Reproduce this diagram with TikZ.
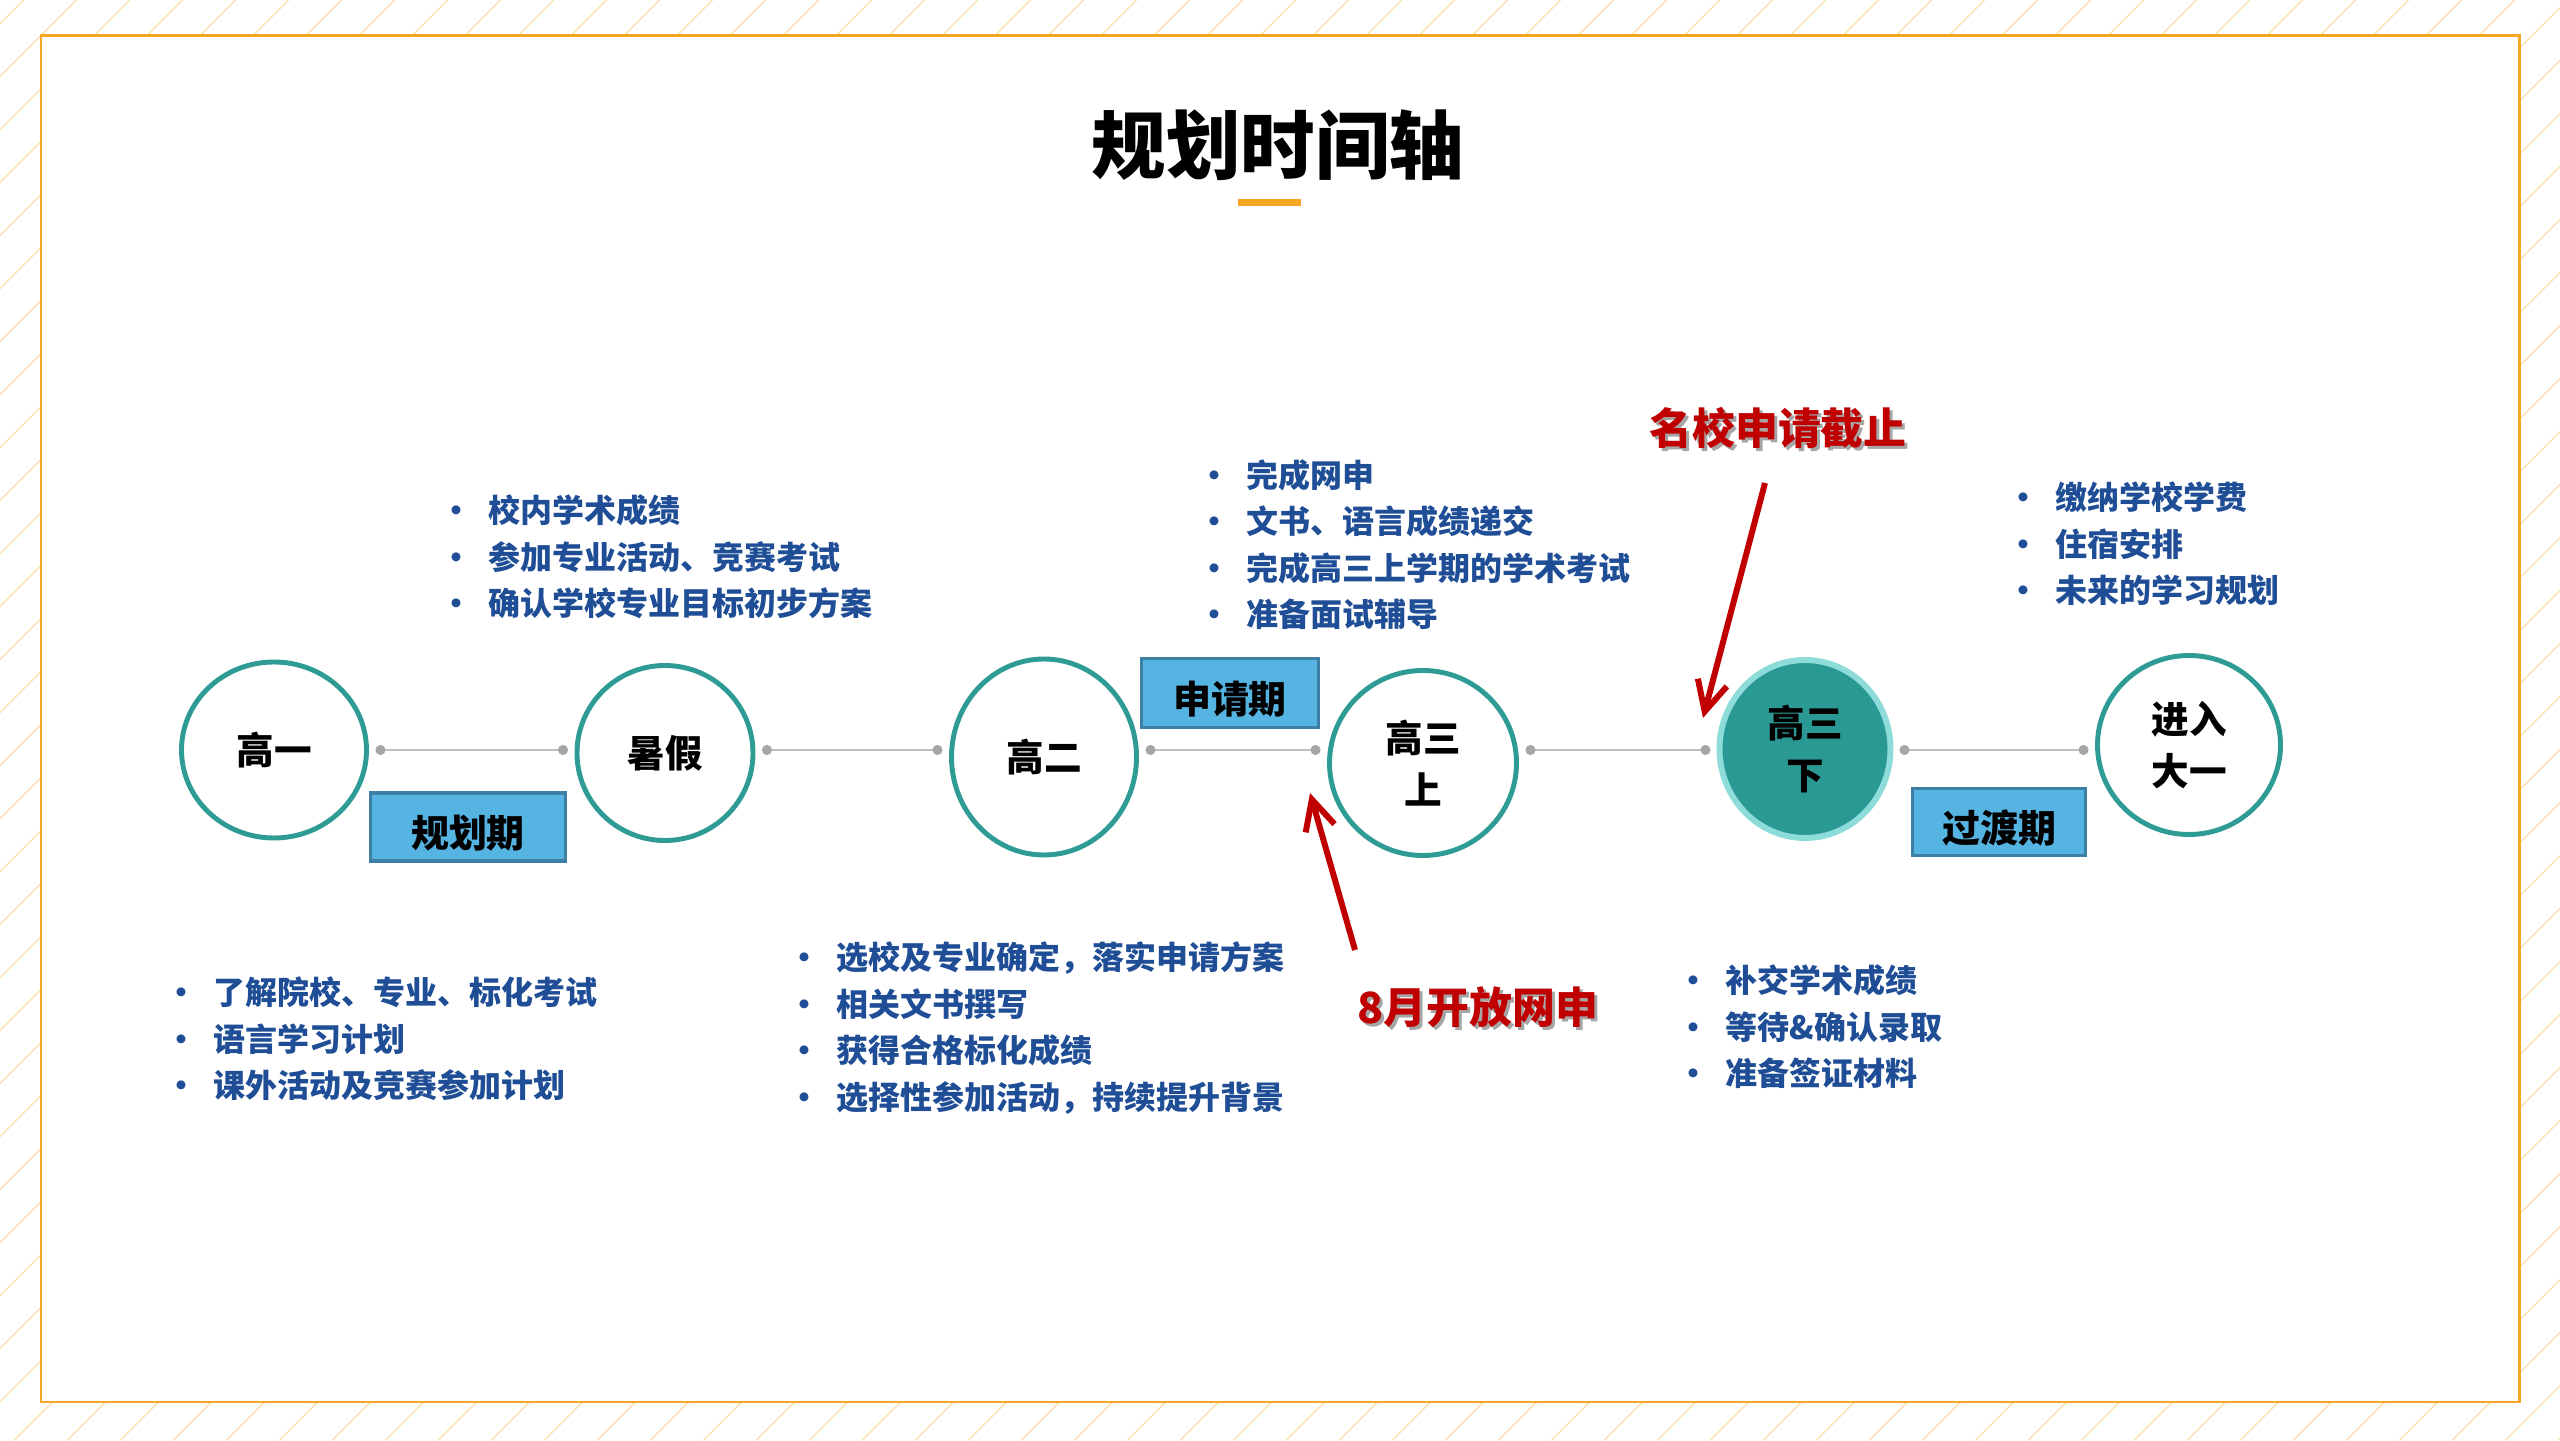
\documentclass[tikz,border=0pt]{standalone}
\usepackage{fontspec}
\setmainfont{Noto Sans CJK SC}
\usepackage{xcolor}
\usepackage{tikz}
\usetikzlibrary{shapes.geometric,arrows.meta}
\definecolor{frame}{HTML}{F6A623}
\definecolor{stripe}{HTML}{FBE1B2}
\definecolor{ring}{HTML}{2E9B95}
\definecolor{ringdark}{HTML}{2A9893}
\definecolor{ringlight}{HTML}{8EDCD9}
\definecolor{boxfill}{HTML}{56B4E3}
\definecolor{boxline}{HTML}{3E7FA6}
\definecolor{navy}{HTML}{1F4E96}
\definecolor{alert}{HTML}{C00000}
\definecolor{axisline}{HTML}{BFBFBF}
\definecolor{axisdot}{HTML}{A6A6A6}
\newcommand{\itm}{\makebox[2em][c]{•}}
\tikzset{
  stage/.style={ellipse, draw=ring, line width=1.4pt, fill=white, inner sep=0pt,
    outer sep=0.09cm, align=center, font=\fontsize{10.7}{15}\selectfont\bfseries},
  now/.style={stage, draw=ringlight, fill=ringdark, line width=1.7pt},
  phase/.style={draw=boxline, fill=boxfill, line width=0.9pt, inner sep=0pt,
    text height=0.46cm, text depth=0.045cm, font=\fontsize{10.8}{12}\selectfont\bfseries},
  todo/.style={text=navy, align=left, inner sep=0pt, anchor=west,
    font=\fontsize{9.1}{13.2}\selectfont\bfseries},
  alertlab/.style={text=alert, inner sep=0pt, font=\fontsize{12.2}{14}\selectfont\bfseries},
  shadowlab/.style={alertlab, text=black!35},
  tline/.style={draw=axisline, line width=0.6pt,
    {Circle[length=1mm, color=axisdot]}-{Circle[length=1mm, color=axisdot]}},
  pointer/.style={draw=alert, line width=1.7pt, -{Straight Barb[length=3mm, width=3mm]}},
}

\begin{document}
\begin{tikzpicture}
\useasboundingbox (0,0) rectangle (25.6,14.4);
\begin{scope}
  \clip (0,0) rectangle (25.6,14.4);
  \foreach \k in {0,...,76}
    \draw[stripe, line width=0.4pt] (0.237+0.53*\k,14.4) -- ++(-14.4,-14.4);
\end{scope}
\draw[frame, fill=white, line width=0.85pt] (0.41,0.38) rectangle (25.19,14.04);

% title
\node[font=\fontsize{21.2}{24}\selectfont\bfseries] (title) at (12.78,12.95) {规划时间轴};
\fill[frame] (12.38,12.34) rectangle (13.01,12.41);

\coordinate (axis) at (0,6.90);

% stages on the time axis
\node[stage, minimum width=1.85cm, minimum height=1.76cm] (g1) at (2.74,6.90) {高一};
\node[stage, minimum width=1.76cm, minimum height=1.75cm] (sj) at (6.65,6.87) {暑假};
\node[stage, minimum width=1.85cm, minimum height=1.96cm] (g2) at (10.44,6.83) {高二};
\node[stage, minimum width=1.87cm, minimum height=1.85cm] (g3a) at (14.23,6.77) {高三\\上};
\node[now, minimum width=1.71cm, minimum height=1.78cm] (g3b) at (18.05,6.91) {高三\\下};
\node[stage, minimum width=1.83cm, minimum height=1.79cm] (dy) at (21.89,6.95) {进入\\大一};

\draw[tline] (g1.east |- axis) -- (sj.west |- axis);
\draw[tline] (sj.east |- axis) -- (g2.west |- axis);
\draw[tline] (g2.east |- axis) -- (g3a.west |- axis);
\draw[tline] (g3a.east |- axis) -- (g3b.west |- axis);
\draw[tline] (g3b.east |- axis) -- (dy.west |- axis);

% periods
\node[phase, minimum width=1.95cm, minimum height=0.68cm] (plan) at (4.68,6.13) {规划期};
\node[phase, minimum width=1.77cm, minimum height=0.69cm] (apply) at (12.30,7.47) {申请期};
\node[phase, minimum width=1.73cm, minimum height=0.67cm] (trans) at (19.99,6.18) {过渡期};

% task lists
\node[todo] (l1) at (4.24,8.83) {\itm 校内学术成绩\\ \itm 参加专业活动、竞赛考试\\ \itm 确认学校专业目标初步方案};
\node[todo] (l2) at (1.49,4.01) {\itm 了解院校、专业、标化考试\\ \itm 语言学习计划\\ \itm 课外活动及竞赛参加计划};
\node[todo] (l3) at (11.82,8.955) {\itm 完成网申\\ \itm 文书、语言成绩递交\\ \itm 完成高三上学期的学术考试\\ \itm 准备面试辅导};
\node[todo] (l4) at (7.72,4.12) {\itm 选校及专业确定，落实申请方案\\ \itm 相关文书撰写\\ \itm 获得合格标化成绩\\ \itm 选择性参加活动，持续提升背景};
\node[todo] (l5) at (19.91,8.96) {\itm 缴纳学校学费\\ \itm 住宿安排\\ \itm 未来的学习规划};
\node[todo] (l6) at (16.61,4.13) {\itm 补交学术成绩\\ \itm 等待\&确认录取\\ \itm 准备签证材料};

% deadlines
\node[shadowlab] at (17.81,10.09) {名校申请截止};
\node[alertlab] (cut) at (17.78,10.12) {名校申请截止};
\node[shadowlab] at (14.81,4.30) {8月开放网申};
\node[alertlab] (open) at (14.78,4.33) {8月开放网申};

\coordinate (cutfrom) at (17.65,9.57);
\coordinate (cutto) at (17.03,7.22);
\coordinate (openfrom) at (13.55,4.90);
\coordinate (opento) at (13.10,6.47);
\draw[pointer] (cutfrom) -- (cutto);
\draw[pointer] (openfrom) -- (opento);
\end{tikzpicture}
\end{document}
